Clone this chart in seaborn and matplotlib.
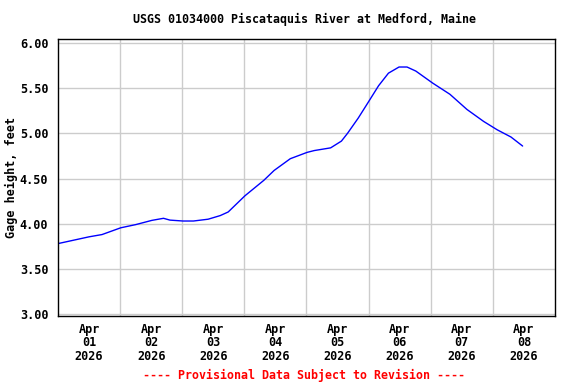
import numpy as np
import pandas as pd
import matplotlib
matplotlib.use("Agg")
import matplotlib.pyplot as plt
import seaborn as sns

sns.set_style("white")
plt.rcParams['font.family'] = ['DejaVu Sans Mono']
plt.rcParams['font.weight'] = 'bold'
plt.rcParams['text.color'] = 'black'
plt.rcParams['axes.labelcolor'] = 'black'
plt.rcParams['xtick.color'] = 'black'
plt.rcParams['ytick.color'] = 'black'

# Gage height readings
times = ["2026-04-01 00:00", "2026-04-01 12:00", "2026-04-01 17:00", "2026-04-02 00:15",
         "2026-04-02 06:00", "2026-04-02 12:15", "2026-04-02 16:45", "2026-04-02 19:15",
         "2026-04-03 00:15", "2026-04-03 04:20", "2026-04-03 10:00", "2026-04-03 14:40",
         "2026-04-03 17:45", "2026-04-04 00:15", "2026-04-04 07:30", "2026-04-04 11:30",
         "2026-04-04 17:45", "2026-04-05 00:15", "2026-04-05 03:00", "2026-04-05 09:20",
         "2026-04-05 13:30", "2026-04-05 15:50", "2026-04-05 20:00", "2026-04-05 23:45",
         "2026-04-06 03:50", "2026-04-06 07:40", "2026-04-06 11:45", "2026-04-06 14:50",
         "2026-04-06 18:15", "2026-04-07 00:45", "2026-04-07 07:25", "2026-04-07 14:00",
         "2026-04-07 20:25", "2026-04-08 01:40", "2026-04-08 07:00", "2026-04-08 11:30"]
heights = [3.78, 3.855, 3.88, 3.955,
           3.99, 4.037, 4.06, 4.04,
           4.03, 4.03, 4.05, 4.09,
           4.13, 4.31, 4.48, 4.59,
           4.72, 4.79, 4.81, 4.84,
           4.915, 5.00, 5.17, 5.34,
           5.527, 5.667, 5.735, 5.735,
           5.69, 5.557, 5.433, 5.265,
           5.133, 5.04, 4.96, 4.86]

y_ticks = [3.00, 3.50, 4.00, 4.50, 5.00, 5.50, 6.00]
day_labels = ["Apr\n01\n2026", "Apr\n02\n2026", "Apr\n03\n2026", "Apr\n04\n2026",
              "Apr\n05\n2026", "Apr\n06\n2026", "Apr\n07\n2026", "Apr\n08\n2026"]

df = pd.DataFrame({"time": pd.to_datetime(times), "height": heights})

fig = plt.figure(figsize=(5.76, 3.84), dpi=100)
ax = fig.add_axes([0.1007, 0.177, 0.8628, 0.7214])

sns.lineplot(data=df, x="time", y="height", ax=ax, color="#0000ff", linewidth=1)

start = pd.Timestamp("2026-04-01")
ax.set_xlim(start, start + pd.Timedelta(days=8))
ax.set_ylim(2.978, 6.045)

# gridlines at midnight, labels centred at noon
midnights = [start + pd.Timedelta(days=i) for i in range(1, 8)]
noons = [start + pd.Timedelta(days=i, hours=12) for i in range(8)]
ax.set_xticks(midnights)
ax.set_xticklabels([])
ax.set_xticks(noons, minor=True)
ax.set_xticklabels(day_labels, minor=True, fontsize=8.5, fontweight='bold',
                   linespacing=1.05)
ax.set_yticks(y_ticks)
ax.set_yticklabels([f"{v:.2f}" for v in y_ticks], fontsize=8.5, fontweight='bold')
ax.tick_params(which='both', length=0, pad=7)
ax.tick_params(axis='x', which='minor', pad=5)

ax.grid(True, which='major', color='#cccccc', linewidth=1)
for s in ax.spines.values():
    s.set_color('black')
    s.set_linewidth(1)

ax.set_xlabel("")
ax.set_ylabel("Gage height, feet", fontsize=8.5, fontweight='bold')
ax.yaxis.set_label_coords(-0.08, 0.5)

fig.text(0.528, 0.95, "USGS 01034000 Piscataquis River at Medford, Maine",
         ha='center', va='center', fontsize=8.4, fontweight='bold')
fig.text(0.528, 0.023, "---- Provisional Data Subject to Revision ----",
         ha='center', va='center', fontsize=8.4, fontweight='bold', color='red')

fig.savefig("out.png", dpi=100)
